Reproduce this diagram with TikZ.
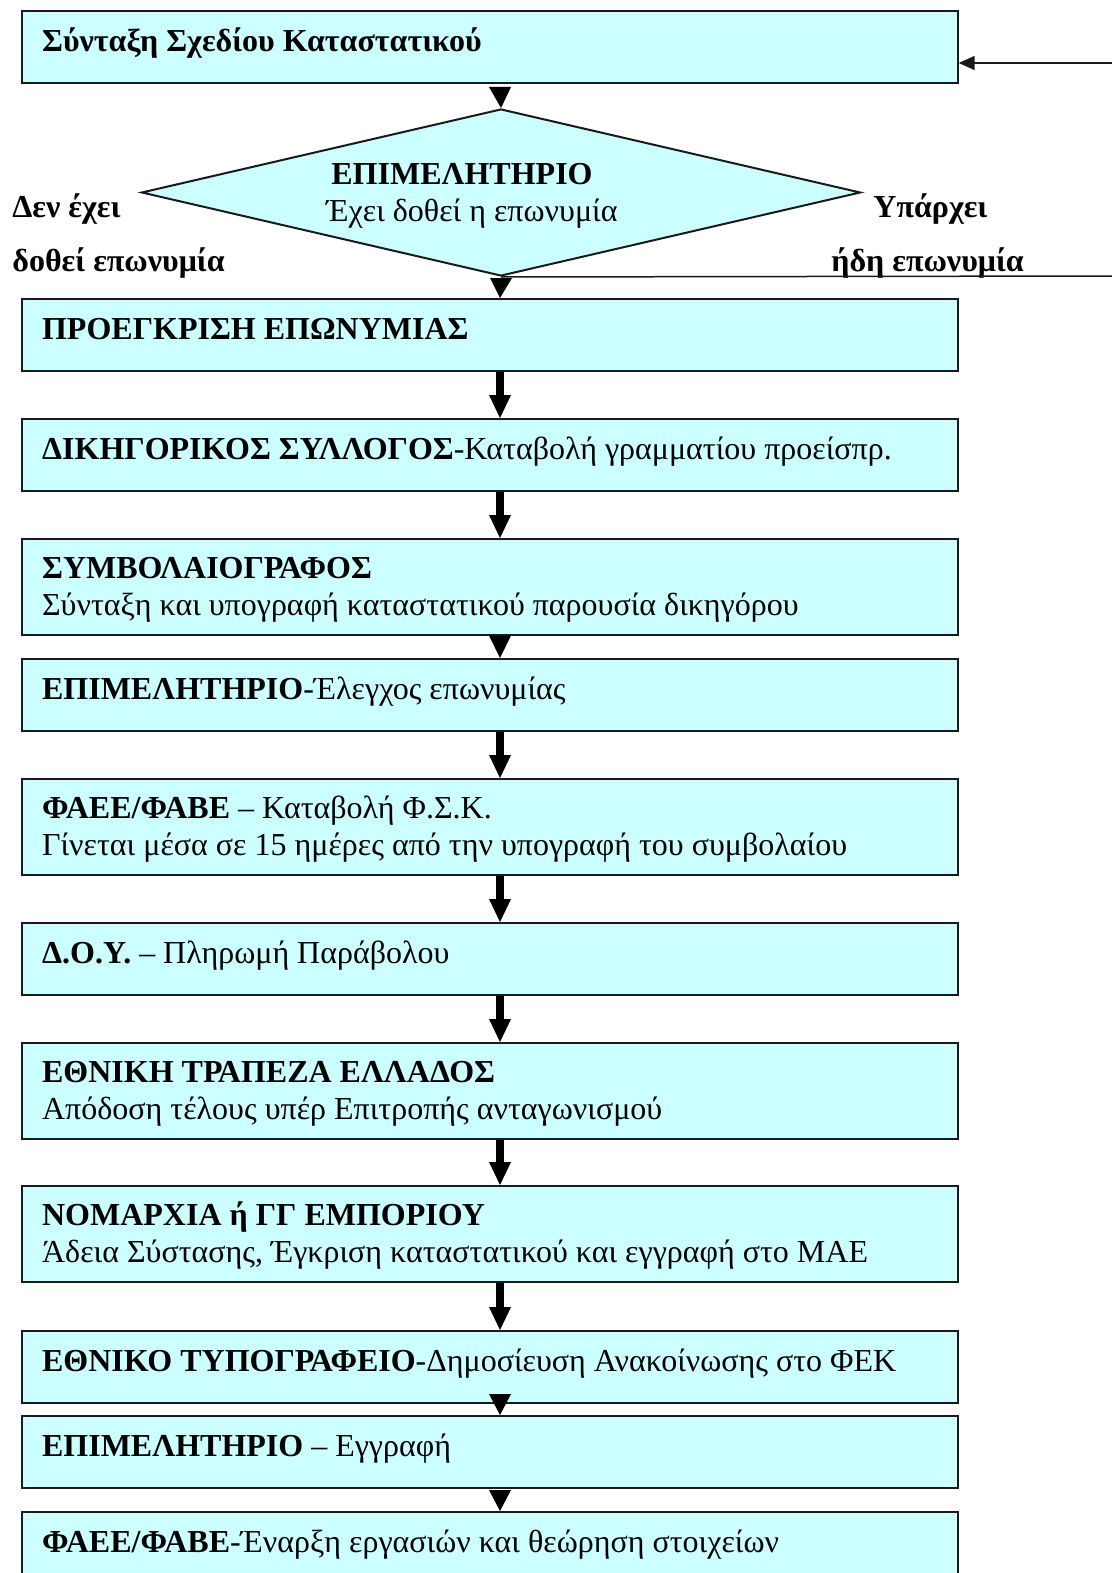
\documentclass[tikz,border=0pt]{standalone}
\usepackage{fontspec}
\setmainfont{Liberation Serif}
\usetikzlibrary{shapes.geometric,arrows.meta,calc}
\definecolor{boxfill}{HTML}{CCFFFF}
\definecolor{boxline}{HTML}{1A1A1A}
\tikzset{
  stepbox/.style={draw=boxline, fill=boxfill, line width=1pt, rectangle, inner sep=0pt, anchor=north west, minimum width=468pt},
  onebox/.style={stepbox, minimum height=36pt},
  twobox/.style={stepbox, minimum height=47.75pt},
  txt/.style={anchor=base west, inner sep=0pt, font=\fontsize{16}{19}\selectfont},
  bigarrow/.style={line width=3.6pt, draw=black, -{Triangle[line width=0pt, length=11.5pt, width=11pt]}, shorten >=0pt},
  tri/.style={draw=none, fill=black},
  thin/.style={draw=boxline, line width=0.75pt},
}
\begin{document}
\begin{tikzpicture}[x=0.5pt,y=-0.5pt]
\useasboundingbox (0,0) rectangle (1112,1573);
\begin{scope}
\clip (0,0) rectangle (1112,1573);
\coordinate (ax) at (500,0);
% boxes
\node[onebox] (b1) at (20.7,10) {};
\node[draw=boxline, fill=boxfill, line width=1pt, diamond, inner sep=0pt, minimum width=359.5pt, minimum height=83.5pt, aspect=4.3] (d) at (501,192.5) {};
\node[onebox] (b3) at (20.7,298) {};
\node[onebox] (b4) at (20.7,418) {};
\node[twobox] (b5) at (20.7,538) {};
\node[onebox] (b6) at (20.7,658) {};
\node[twobox] (b7) at (20.7,778) {};
\node[onebox] (b8) at (20.7,922) {};
\node[twobox] (b9) at (20.7,1042) {};
\node[twobox] (b10) at (20.7,1185) {};
\node[onebox] (b11) at (20.7,1330) {};
\node[onebox] (b12) at (20.7,1415) {};
\node[onebox] (b13) at (20.7,1511) {};

% texts
\node[txt] (t1) at (41.7,52) {\textbf{Σύνταξη Σχεδίου Καταστατικού}};
\node[txt] (td1) at (331,185) {\textbf{ΕΠΙΜΕΛΗΤΗΡΙΟ}};
\node[txt] (td2) at (326,222) {Έχει δοθεί η επωνυμία};
\node[txt] (tl1) at (12,218) {\textbf{Δεν έχει}};
\node[txt] (tl2) at (12,271) {\textbf{δοθεί επωνυμία}};
\node[txt] (tr1) at (873,218) {\textbf{Υπάρχει}};
\node[txt] (tr2) at (831,271) {\textbf{ήδη επωνυμία}};
\node[txt] (t3) at (41.7,339) {\textbf{ΠΡΟΕΓΚΡΙΣΗ ΕΠΩΝΥΜΙΑΣ}};
\node[txt] (t4) at (41.7,459) {\textbf{ΔΙΚΗΓΟΡΙΚΟΣ ΣΥΛΛΟΓΟΣ}-Καταβολή γραμματίου προείσπρ.};
\node[txt] (t5a) at (41.7,578) {\textbf{ΣΥΜΒΟΛΑΙΟΓΡΑΦΟΣ}};
\node[txt] (t5b) at (41.7,615) {Σύνταξη και υπογραφή καταστατικού παρουσία δικηγόρου};
\node[txt] (t6) at (41.7,699) {\textbf{ΕΠΙΜΕΛΗΤΗΡΙΟ}-Έλεγχος επωνυμίας};
\node[txt] (t7a) at (41.7,818) {\textbf{ΦΑΕΕ/ΦΑΒΕ} – Καταβολή Φ.Σ.Κ.};
\node[txt] (t7b) at (41.7,855) {Γίνεται μέσα σε 15 ημέρες από την υπογραφή του συμβολαίου};
\node[txt] (t8) at (41.7,963) {\textbf{Δ.Ο.Υ.} – Πληρωμή Παράβολου};
\node[txt] (t9a) at (41.7,1082) {\textbf{ΕΘΝΙΚΗ ΤΡΑΠΕΖΑ ΕΛΛΑΔΟΣ}};
\node[txt] (t9b) at (41.7,1119) {Απόδοση τέλους υπέρ Επιτροπής ανταγωνισμού};
\node[txt] (t10a) at (41.7,1225) {\textbf{ΝΟΜΑΡΧΙΑ ή ΓΓ ΕΜΠΟΡΙΟΥ}};
\node[txt] (t10b) at (41.7,1262) {Άδεια Σύστασης, Έγκριση καταστατικού και εγγραφή στο ΜΑΕ};
\node[txt] (t11) at (41.7,1371) {\textbf{ΕΘΝΙΚΟ ΤΥΠΟΓΡΑΦΕΙΟ}-Δημοσίευση Ανακοίνωσης στο ΦΕΚ};
\node[txt] (t12) at (41.7,1456) {\textbf{ΕΠΙΜΕΛΗΤΗΡΙΟ} – Εγγραφή};
\node[txt] (t13) at (41.7,1552) {\textbf{ΦΑΕΕ/ΦΑΒΕ}-Έναρξη εργασιών και θεώρηση στοιχείων};

% thick arrows
\foreach \a/\b in {b3/b4,b4/b5,b6/b7,b7/b8,b8/b9,b9/b10,b10/b11}{
  \draw[bigarrow] (\a.south -| ax) -- (\b.north -| ax);
}
% triangle-only arrows
\fill[tri] ($(b1.south -| ax)+(-11,3)$) -- ($(b1.south -| ax)+(11,3)$) -- (d.north) -- cycle;
\fill[tri] ($(d.south)+(-11,1)$) -- ($(d.south)+(11,1)$) -- (b3.north -| ax) -- cycle;
\fill[tri] ($(b5.south -| ax)+(-11,0)$) -- ($(b5.south -| ax)+(11,0)$) -- (b6.north -| ax) -- cycle;
\fill[tri] ($(b11.south -| ax)+(-11,-10)$) -- ($(b11.south -| ax)+(11,-10)$) -- (b12.north -| ax) -- cycle;
\fill[tri] ($(b12.south -| ax)+(-11,1)$) -- ($(b12.south -| ax)+(11,1)$) -- (b13.north -| ax) -- cycle;

% return path on the right
\coordinate (rlow) at (1112,276);
\coordinate (rhigh) at (1112,63);
\draw[thin] (d.south) -- (rlow);
\draw[thin, -{Triangle[length=8pt, width=7pt]}] (rhigh) -- (b1.east |- rhigh);
\end{scope}
\end{tikzpicture}
\end{document}
